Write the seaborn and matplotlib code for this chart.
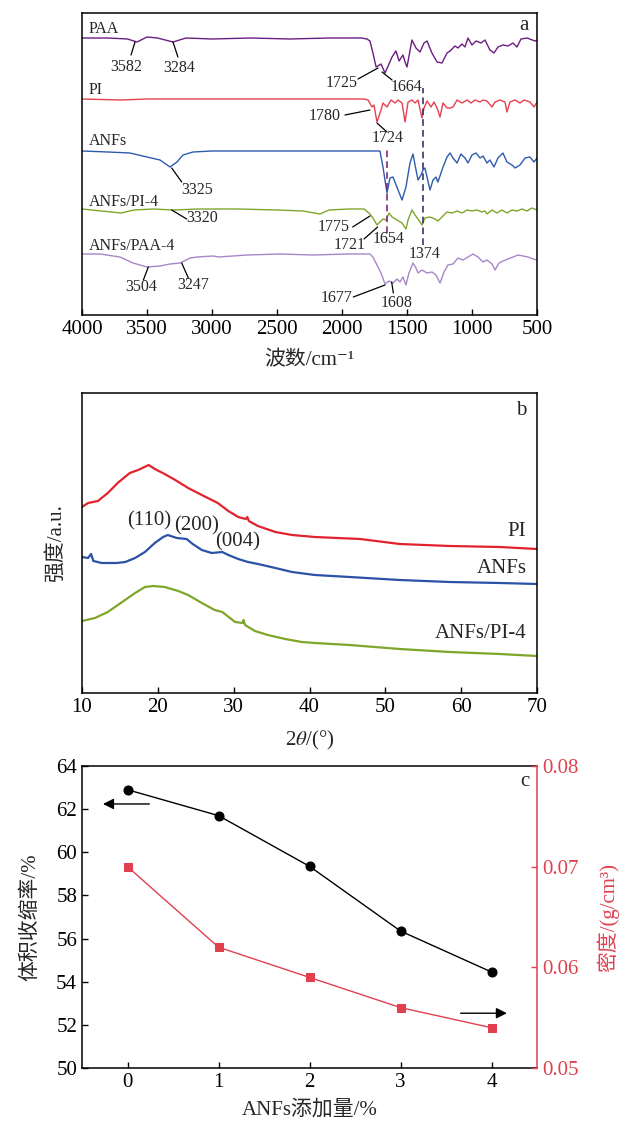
import numpy as np
import pandas as pd
import matplotlib
matplotlib.use("Agg")
import matplotlib.pyplot as plt
import seaborn as sns

# ---------------- data: panel a (FTIR, offset traces) ----------------
paa_wn = [4000, 3800, 3650, 3577, 3500, 3420, 3300, 3200, 3000, 2700, 2400, 2100, 1850, 1808, 1785,
          1762, 1738, 1700, 1669, 1615, 1585, 1561, 1531, 1515, 1500, 1462, 1431, 1400, 1369, 1346,
          1308, 1269, 1231, 1192, 1169, 1131, 1108, 1077, 1054, 1031, 1000, 969, 931, 900, 862, 831,
          800, 762, 723, 685, 654, 623, 577, 515, 500]
paa_val = [277, 277, 276, 273, 278, 277, 273, 277, 276, 277, 276, 277, 277, 276, 274,
           262, 248, 251, 242, 258, 264, 254, 260, 253, 248, 275, 267, 263, 272, 274,
           262, 253, 252, 262, 264, 269, 267, 271, 268, 277, 270, 274, 272, 275, 265, 262,
           268, 270, 269, 272, 268, 276, 277, 274, 275]

pi_wn = [4000, 3700, 3500, 3100, 3000, 2500, 2000, 1830, 1800, 1769, 1754, 1731, 1700, 1685, 1654,
         1623, 1592, 1569, 1538, 1515, 1492, 1462, 1438, 1415, 1385, 1369, 1346, 1315, 1292, 1269,
         1246, 1223, 1192, 1169, 1146, 1115, 1077, 1038, 1008, 977, 938, 915, 885, 846, 823, 785,
         746, 731, 708, 669, 631, 600, 554, 523, 500]
pi_val = [216, 215, 216, 216, 216, 216, 216, 216, 215, 208, 210, 193, 205, 212, 208,
          215, 212, 215, 212, 193, 213, 215, 212, 215, 197, 207, 214, 208, 213, 207,
          198, 212, 207, 207, 208, 215, 212, 215, 212, 215, 213, 215, 214, 208, 213, 215,
          213, 203, 213, 215, 212, 215, 213, 208, 213]

anf_wn = [4000, 3800, 3631, 3500, 3400, 3323, 3269, 3223, 3146, 3000, 2500, 2000, 1731, 1708, 1685,
          1654, 1631, 1608, 1569, 1538, 1508, 1477, 1454, 1438, 1415, 1392, 1377, 1362, 1346, 1323,
          1300, 1277, 1262, 1223, 1192, 1169, 1146, 1115, 1085, 1054, 1031, 1000, 969, 938, 915,
          885, 862, 831, 800, 762, 731, 692, 669, 631, 592, 554, 523, 500]
anf_val = [164, 163, 162, 158, 155, 148, 153, 160, 163, 164, 164, 164, 164, 164, 148,
           122, 137, 138, 125, 115, 128, 152, 161, 150, 135, 140, 145, 147, 138, 125,
           135, 138, 133, 148, 158, 162, 157, 152, 161, 157, 152, 160, 162, 157, 159,
           152, 155, 148, 157, 162, 153, 150, 147, 150, 157, 158, 153, 157]

api_wn = [4000, 3850, 3700, 3600, 3450, 3300, 3100, 2800, 2500, 2300, 2169, 2100, 1950, 1830, 1785,
          1762, 1731, 1708, 1685, 1662, 1638, 1615, 1577, 1538, 1508, 1492, 1462, 1438, 1415, 1385,
          1362, 1323, 1285, 1262, 1231, 1192, 1154, 1115, 1077, 1038, 1000, 962, 923, 900, 885,
          846, 808, 769, 731, 692, 654, 615, 577, 538, 500]
api_val = [106, 104, 102, 105, 106, 105, 106, 106, 105, 104, 101, 105, 106, 106, 101,
           97, 90, 93, 96, 95, 102, 98, 95, 92, 86, 95, 105, 100, 96, 90,
           97, 98, 96, 94, 98, 103, 102, 104, 102, 105, 104, 105, 103, 104, 101,
           105, 102, 105, 102, 105, 104, 106, 104, 107, 105]

apaa_wn = [4000, 3862, 3708, 3608, 3500, 3400, 3323, 3246, 3169, 3115, 2992, 2950, 2731, 2477, 2223,
           1962, 1785, 1762, 1731, 1700, 1669, 1638, 1608, 1577, 1554, 1531, 1508, 1485, 1454, 1431,
           1415, 1385, 1346, 1308, 1277, 1246, 1215, 1185, 1146, 1108, 1069, 1031, 992, 954, 915,
           885, 846, 823, 792, 762, 723, 685, 646, 608, 569, 531, 500]
apaa_val = [61, 61, 58, 52, 48, 49, 51, 52, 57, 58, 59, 58, 60, 61, 60,
            61, 61, 58, 50, 42, 31, 34, 32, 36, 33, 38, 30, 42, 52, 47,
            42, 45, 42, 43, 40, 32, 43, 50, 51, 57, 55, 58, 61, 58, 53,
            55, 51, 45, 52, 54, 56, 58, 60, 59, 58, 56, 55]

ftir_names = ["PAA", "PI", "ANFs", "ANFs/PI-4", "ANFs/PAA-4"]
ftir_colors = ["#6c1d82", "#e6404f", "#2e5cab", "#7fa62b", "#a886c8"]

# peak labels: (text, text_x, text_y, leader x0, y0, x1, y1)
ftir_peaks = [
    ("3582", 3662, 248, 3592, 273, 3623, 260),
    ("3284", 3254, 247, 3300, 273, 3262, 258),
    ("1725", 2000, 232, 1723, 247, 1877, 236),
    ("1664", 1500, 228, 1692, 243, 1615, 235),
    ("1780", 2131, 199, 1977, 200, 1785, 205),
    ("1724", 1646, 177, 1731, 192, 1654, 183),
    ("3325", 3115, 125, 3310, 147, 3233, 133),
    ("3320", 3079, 97, 3310, 105, 3195, 96),
    ("1775", 2067, 88, 1918, 88, 1785, 99),
    ("1721", 1938, 70, 1831, 76, 1726, 88),
    ("1654", 1644, 76, None, None, None, None),
    ("1374", 1362, 61, None, None, None, None),
    ("3504", 3541, 28, 3490, 48, 3528, 35),
    ("3247", 3144, 30, 3233, 52, 3182, 37),
    ("1677", 2041, 17, 1913, 18, 1669, 30),
    ("1608", 1579, 12, 1618, 33, 1605, 22),
]
ftir_label_y = [286, 225, 174, 113, 69]
dash_lines = [(1654, 82, 165, "#8b2582"), (1374, 70, 227, "#3a3370")]

# ---------------- data: panel b (XRD) ----------------
xrd_pi_x = [10.0, 10.8, 12.1, 13.4, 14.7, 16.3, 17.4, 18.8, 19.6, 20.9, 22.3, 24.0, 25.8, 27.9,
            29.3, 30.6, 31.6, 31.8, 32.0, 33.2, 35.5, 37.7, 40.7, 46.7, 51.9, 58.5, 65.1, 70.0]
xrd_pi_y = [186, 190, 192, 200, 210, 220, 223, 228, 224, 219, 213, 205, 198, 190,
            182, 176, 174, 176, 172, 167, 161, 158, 156, 154, 149, 147, 146, 144]
xrd_anf_x = [10.0, 10.8, 11.2, 11.5, 12.6, 14.6, 15.7, 17.0, 18.3, 19.6, 20.7, 21.3, 22.5, 23.8,
             24.6, 25.8, 27.1, 28.5, 29.3, 30.6, 31.9, 33.2, 35.5, 37.7, 40.7, 45.3, 51.9, 58.5,
             65.1, 70.0]
xrd_anf_y = [136, 135, 139, 132, 130, 130, 131, 135, 141, 150, 156, 158, 155, 154,
             149, 143, 140, 141, 138, 134, 131, 129, 125, 121, 118, 116, 113, 111, 110, 109]
xrd_api_x = [10.0, 11.7, 13.4, 15.3, 17.0, 18.3, 19.4, 20.9, 22.7, 24.0, 25.8, 27.5, 28.5, 30.2,
             31.2, 31.3, 31.5, 32.8, 34.5, 36.8, 39.0, 40.7, 45.3, 51.9, 58.5, 65.1, 70.0]
xrd_api_y = [72, 75, 81, 91, 100, 106, 107, 106, 102, 98, 90, 83, 81, 71,
             70, 73, 68, 62, 58, 54, 51, 50, 48, 44, 41, 39, 37]
xrd_names = ["PI", "ANFs", "ANFs/PI-4"]
xrd_colors = ["#e2232d", "#2a52a6", "#7ea62a"]
xrd_label_y = [162, 125, 60]
xrd_planes = [("(110)", 18.9, 172), ("(200)", 25.1, 167), ("(004)", 30.5, 151)]

# ---------------- data: panel c ----------------
anf_content = [0, 1, 2, 3, 4]
shrinkage = [62.9, 61.7, 59.35, 56.35, 54.45]
density = [0.0700, 0.0620, 0.0590, 0.0560, 0.0540]

# ---------------- style ----------------
sns.set_style("ticks")
plt.rcParams['font.family'] = ['Liberation Serif', 'Noto Sans CJK SC', 'DejaVu Serif']
plt.rcParams['mathtext.fontset'] = 'stix'
plt.rcParams['axes.unicode_minus'] = False
plt.rcParams['xtick.direction'] = 'in'
plt.rcParams['ytick.direction'] = 'in'

TICK_FS = 15
ANN_FS = 11.5
LAB_FS = 15

fig = plt.figure(figsize=(6.28, 11.22), dpi=100)
L, W = 82 / 628, 455 / 628
axa = fig.add_axes([L, 1 - 315 / 1122, W, 302 / 1122])
axb = fig.add_axes([L, 1 - 693 / 1122, W, 300 / 1122])
axc = fig.add_axes([L, 1 - 1068 / 1122, W, 302 / 1122])

for ax in (axa, axb, axc):
    for s in ax.spines.values():
        s.set_linewidth(1.1)
        s.set_color("black")
    ax.tick_params(length=4, width=1, labelsize=TICK_FS, colors="black")

# ---------------- panel a ----------------
ftir = [(paa_wn, paa_val), (pi_wn, pi_val), (anf_wn, anf_val), (api_wn, api_val), (apaa_wn, apaa_val)]
for (xs, ys), c in zip(ftir, ftir_colors):
    sns.lineplot(x=xs, y=ys, ax=axa, color=c, lw=1.0, sort=False, estimator=None)
for wn, y0, y1, c in dash_lines:
    axa.plot([wn, wn], [y0, y1], ls=(0, (4, 2.5)), color=c, lw=1.2)
for t, tx, ty, x0, y0, x1, y1 in ftir_peaks:
    axa.text(tx, ty, t, fontsize=ANN_FS, ha="center", va="center")
    if x0 is not None:
        axa.plot([x0, x1], [y0, y1], color="black", lw=0.9)
for name, ly in zip(ftir_names, ftir_label_y):
    axa.text(3950, ly, name, fontsize=ANN_FS, ha="left", va="center")
axa.text(600, 290, "a", fontsize=LAB_FS, ha="center", va="center")
axa.set_xlim(4000, 500)
axa.set_ylim(0, 302)
axa.set_xticks(np.arange(4000, 499, -500))
axa.set_yticks([])
axa.set_xlabel("波数/cm⁻¹", fontsize=LAB_FS)
axa.xaxis.set_label_coords(0.5, -0.118)

# ---------------- panel b ----------------
xrd = [(xrd_pi_x, xrd_pi_y), (xrd_anf_x, xrd_anf_y), (xrd_api_x, xrd_api_y)]
for (xs, ys), c in zip(xrd, xrd_colors):
    sns.lineplot(x=xs, y=ys, ax=axb, color=c, lw=1.6, sort=False, estimator=None)
for name, ly in zip(xrd_names, xrd_label_y):
    axb.text(68.6, ly, name, fontsize=LAB_FS, ha="right", va="center")
for t, tx, ty in xrd_planes:
    axb.text(tx, ty, t, fontsize=LAB_FS, ha="center", va="center")
axb.text(67.9, 283, "b", fontsize=LAB_FS, ha="center", va="center")
axb.set_xlim(10, 70)
axb.set_ylim(0, 300)
axb.set_xticks(np.arange(10, 71, 10))
axb.set_yticks([])
axb.set_xlabel(r"2$\theta$/(°)", fontsize=LAB_FS)
axb.xaxis.set_label_coords(0.5, -0.12)
axb.set_ylabel("强度/a.u.", fontsize=LAB_FS)
axb.yaxis.set_label_coords(-0.035, 0.5)

# ---------------- panel c ----------------
RED = "#e0404f"
sns.lineplot(x=anf_content, y=shrinkage, ax=axc, color="black", lw=1.0, marker="o",
             markersize=6.5, markeredgecolor="black", sort=False, estimator=None)
axc.set_xlim(-0.5, 4.5)
axc.set_ylim(50, 64)
axc.set_xticks(anf_content)
axc.set_yticks(np.arange(50, 65, 2))
axc.spines["right"].set_visible(False)
axc.set_xlabel("ANFs添加量/%", fontsize=LAB_FS)
axc.xaxis.set_label_coords(0.5, -0.105)
axc.set_ylabel("体积收缩率/%", fontsize=LAB_FS)
axc.yaxis.set_label_coords(-0.092, 0.5)
axc.text(4.37, 63.3, "c", fontsize=LAB_FS, ha="center", va="center")
axc.annotate("", xy=(-0.3, 62.24), xytext=(0.27, 62.24),
             arrowprops=dict(arrowstyle="-|>", color="black", lw=1.0, mutation_scale=16))

axr = axc.twinx()
sns.lineplot(x=anf_content, y=density, ax=axr, color=RED, lw=1.0, marker="s",
             markersize=6, markeredgecolor=RED, sort=False, estimator=None)
axr.set_ylim(0.05, 0.08)
axr.set_yticks([0.05, 0.06, 0.07, 0.08])
axr.set_yticklabels(["0.05", "0.06", "0.07", "0.08"])
for s in ("left", "top", "bottom"):
    axr.spines[s].set_visible(False)
axr.spines["right"].set_color(RED)
axr.spines["right"].set_linewidth(1.1)
axr.tick_params(axis="y", direction="in", length=4, width=1, colors=RED, labelsize=TICK_FS)
axr.set_ylabel("密度/(g/cm³)", fontsize=LAB_FS, color=RED)
axr.yaxis.set_label_coords(1.132, 0.5)
axc.annotate("", xy=(4.2, 52.54), xytext=(3.63, 52.54),
             arrowprops=dict(arrowstyle="-|>", color="black", lw=1.0, mutation_scale=16))

fig.savefig("out.png", dpi=100)
